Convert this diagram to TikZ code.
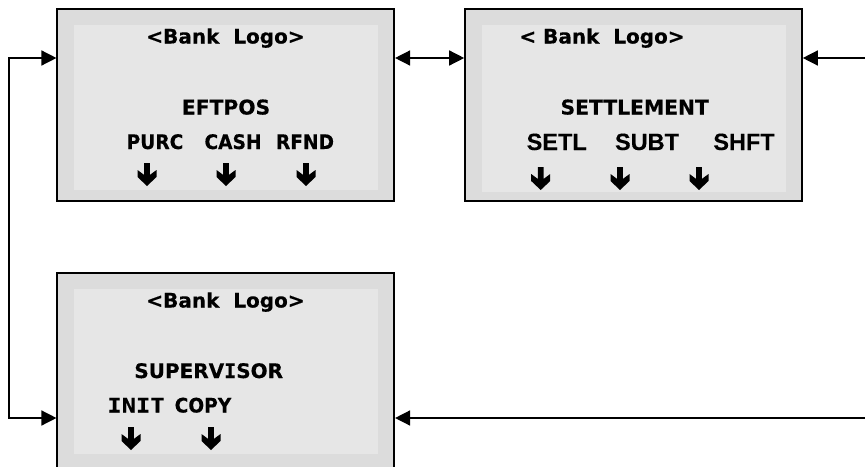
\documentclass[tikz,border=0pt]{standalone}
\usepackage{fontspec}
\setmainfont{DejaVu Sans}
\newfontfamily\dvb[FakeBold=0.35]{DejaVu Sans Bold}
\newfontfamily\dvn[FakeStretch=0.93,FakeBold=0.35]{DejaVu Sans Bold}
\newfontfamily\dvm[FakeStretch=1.19,FakeBold=0.35]{DejaVu Sans Mono Bold}
\newfontfamily\dvi[FakeBold=0.35]{DejaVu Sans Mono Bold}
\newfontfamily\lib[FakeBold=0.2]{Liberation Sans Bold}
\usetikzlibrary{arrows.meta}
\tikzset{
  screen/.style={draw=black,line width=1.6pt,fill=outergrey,minimum width=337pt,inner sep=0pt,outer sep=0.8pt},
  lcd/.style={fill=innergrey,minimum width=304pt,inner sep=0pt,outer sep=0pt},
  logotext/.style={anchor=base,inner sep=0pt,font=\dvb\fontsize{20}{20}\selectfont},
  titletext/.style={anchor=base,inner sep=0pt,font=\dvb\fontsize{20.3}{20}\selectfont},
  softkey/.style={anchor=base,inner sep=0pt,font=\dvn\fontsize{20}{20}\selectfont},
  softkeyb/.style={anchor=base,inner sep=0pt,font=\lib\fontsize{23.5}{24}\selectfont},
  link/.style={line width=1.4pt,draw=black},
  tip/.style={-{Triangle[length=15pt,width=15pt]}},
  duotip/.style={{Triangle[length=15pt,width=15pt]}-{Triangle[length=15pt,width=15pt]}},
  downkey/.pic={\fill[black] (-2.8,0) -- (2.8,0) -- (2.8,12) -- (9.5,7) -- (9.5,14) -- (0,23) -- (-9.5,14) -- (-9.5,7) -- (-2.8,12) -- cycle;}
}
\definecolor{outergrey}{HTML}{DCDCDC}
\definecolor{innergrey}{HTML}{E6E6E6}
\begin{document}
\begin{tikzpicture}[x=1pt,y=-1pt]
\useasboundingbox (0,0) rectangle (865,466);
% screens
\node[screen,minimum height=192pt] (box1) at (225.75,105) {};
\node[screen,minimum height=192pt] (box2) at (633.5,105) {};
\node[screen,minimum height=198pt] (box3) at (225.75,372) {};
\node[lcd,minimum height=165pt] (lcd1) at (226,107.5) {};
\node[lcd,minimum height=167pt] (lcd2) at (634,108.5) {};
\node[lcd,minimum height=165pt] (lcd3) at (226,371.5) {};
% texts, first screen
\node[logotext] (t1a) at (225.5,43.5) {<Bank\ \ Logo>};
\node[titletext] (t1b) at (226,114.5) {EFTPOS};
\node[softkey] (k1a) at (155,149) {PURC};
\node[softkey] (k1b) at (233,149) {CASH};
\node[softkey] (k1c) at (305,149) {RFND};
% texts, second screen
\node[logotext] (t2a) at (602,43.5) {<\ Bank\ \ Logo>};
\node[titletext] (t2b) at (634.7,114.5) {SETTLEMENT};
\node[softkeyb] (k2a) at (556.7,150) {SETL};
\node[softkeyb] (k2b) at (647,150) {SUBT};
\node[softkeyb] (k2c) at (744,150) {SHFT};
% texts, third screen
\node[logotext] (t3a) at (225.5,307.5) {<Bank\ \ Logo>};
\node[titletext,font=\dvb\fontsize{20}{20}\selectfont] (t3b) at (208.7,378) {SUPERV{\dvi I}SOR};
\node[softkey,font=\dvm\fontsize{20}{20}\selectfont] (k3a) at (136,412.5) {INIT};
\node[softkey] (k3b) at (203,412.5) {COPY};
% key arrows
\foreach \x/\y in {147/163,226/163,306/163,540.7/167,620/167,699/167,131/427,211/427}
  \pic at (\x,\y) {downkey};
% connector ends
\coordinate (rightA) at (865,58);
\coordinate (rightB) at (865,418);
\coordinate (leftrail) at (9,240);
% connectors
\draw[link,duotip] ([yshift=47pt]box1.east) -- ([yshift=47pt]box2.west);
\draw[link,tip] (rightA) -- ([yshift=47pt]box2.east);
\draw[link,tip] (rightB) -- ([yshift=-46pt]box3.east);
\draw[link,duotip] ([yshift=47pt]box1.west) -| (leftrail) |- ([yshift=-46pt]box3.west);
\end{tikzpicture}
\end{document}
